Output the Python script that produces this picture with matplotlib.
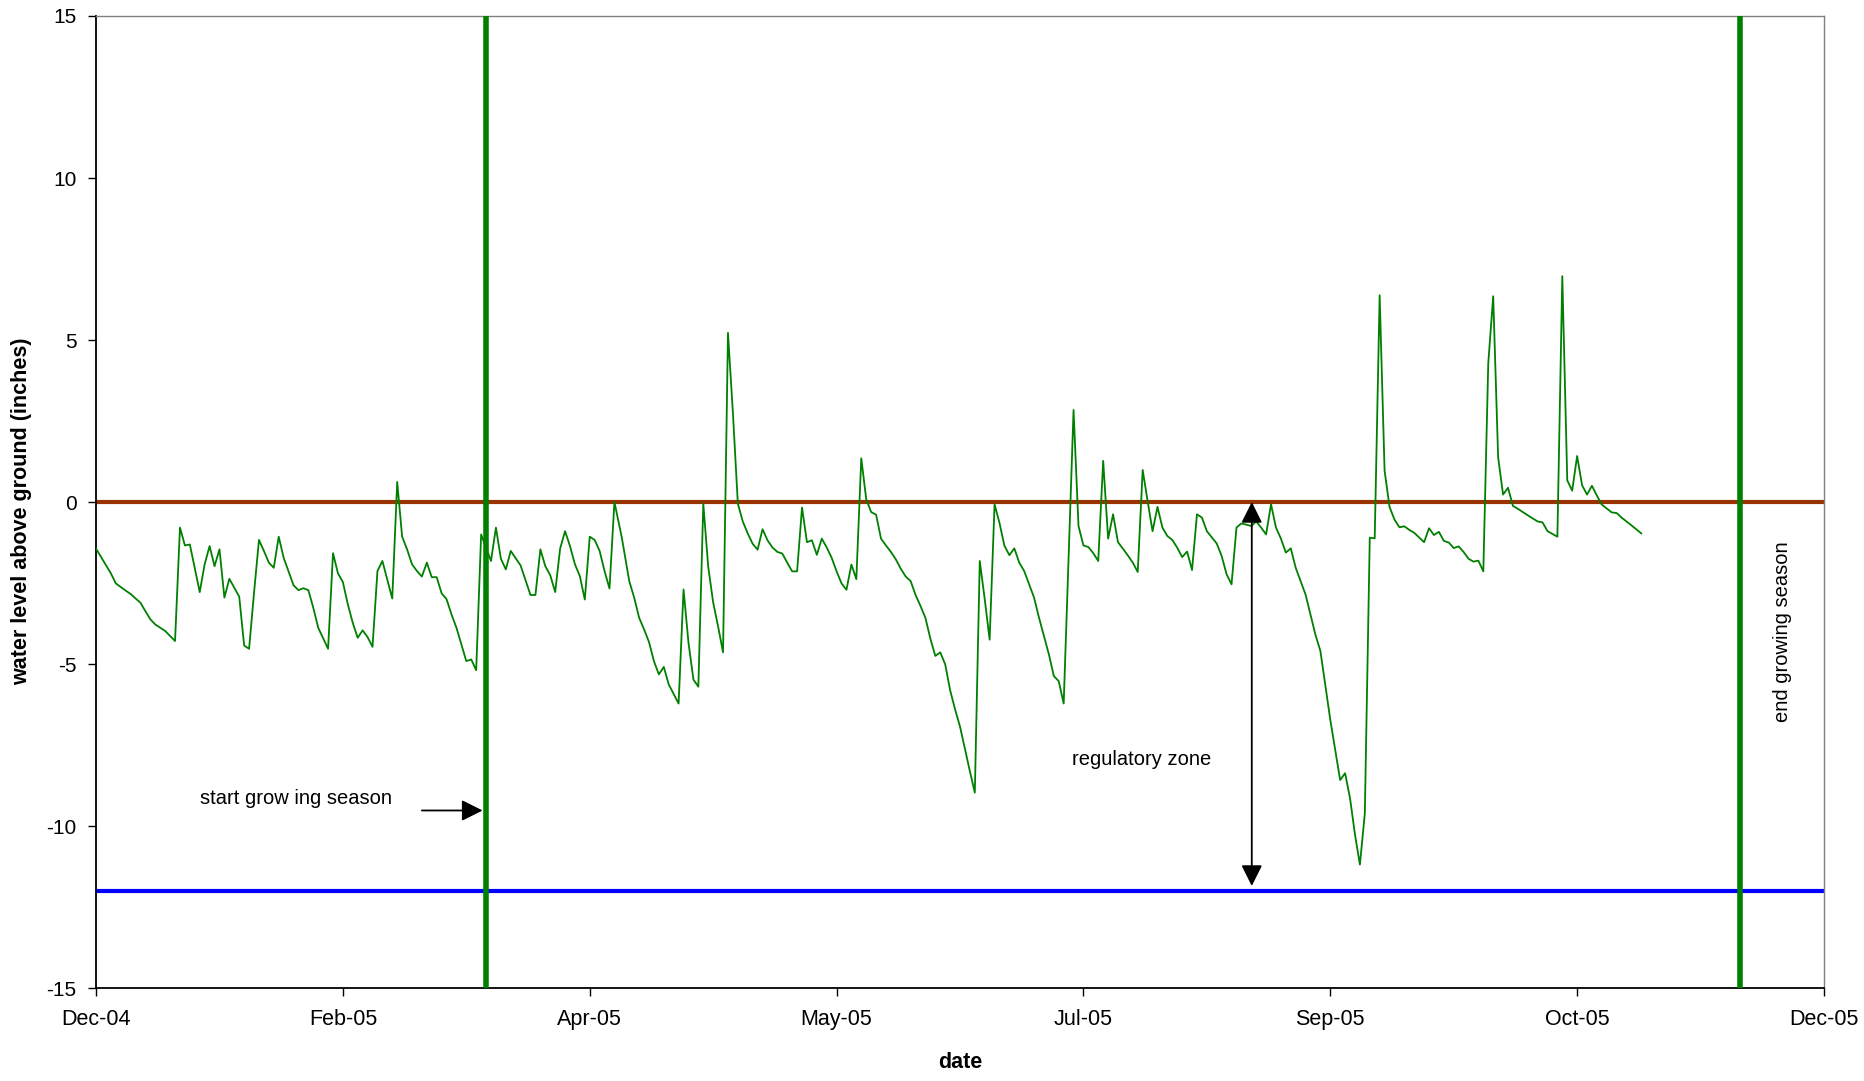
import numpy as np
import matplotlib
matplotlib.use("Agg")
import matplotlib.pyplot as plt
import matplotlib.dates as mdates
from datetime import datetime

plt.rcParams['font.family'] = ['Liberation Sans', 'DejaVu Sans']
plt.rcParams['axes.unicode_minus'] = False

# well record: days after 29 Dec 2004 and water level above ground (inches)
days = [0, 1.5, 3, 4, 5.5, 7, 9, 10, 11, 12,
        14, 16, 17, 18, 19, 21, 22, 23, 24, 25,
        26, 27, 29, 30, 31, 32, 33, 34, 35, 36,
        37, 38, 40, 41, 42, 43, 44, 45, 47, 48,
        49, 50, 51, 52, 53, 54, 55, 56, 57, 58,
        60, 61, 62, 63, 64, 65, 66, 67, 68, 69,
        70, 71, 72, 73, 74, 75, 76, 77, 78, 80,
        81, 82, 83, 84, 86, 88, 89, 90, 91, 92,
        93, 94, 95, 96, 97, 98, 99, 100, 101, 102,
        103, 104, 105, 106.5, 108, 109, 110, 111, 112, 113,
        114, 115, 116, 118, 119, 120, 121, 122, 123, 124,
        125, 126, 127, 128, 129, 130, 131, 132, 133, 134,
        135, 136, 137, 138, 139, 140, 141, 142, 143, 144,
        145, 146, 147, 148, 149, 150, 151, 152, 153, 154,
        155, 156, 157, 158, 159, 160, 161, 162, 163, 164,
        165, 166, 167, 168, 169, 170, 171, 172, 173, 174,
        175, 176, 177, 178, 179, 180, 181, 182, 183, 184,
        185, 186, 187, 188, 190, 191, 193, 194, 195, 196,
        198, 199, 200, 201, 202, 203, 204, 205, 206, 207,
        208, 209, 210, 211, 212, 213, 214, 215, 216, 217,
        218, 219, 220, 221, 222, 223, 224, 225, 227, 228,
        229, 230, 231, 232, 234, 235, 236, 237, 238, 239,
        240, 241, 242, 243, 245, 247, 248, 250, 252, 253,
        254, 255, 256, 257, 258, 259, 260, 261, 262, 263,
        264, 265, 266, 267, 269, 270, 271, 272, 273, 274,
        275, 276, 277, 278, 279, 280, 281, 282, 283, 284,
        285, 286, 287, 288, 290, 292, 293, 294, 296, 297,
        298, 299, 300, 301, 302, 303, 304, 305,
        307, 308, 309, 311, 313]

level = [-1.44, -1.82, -2.20, -2.51, -2.68, -2.84, -3.11, -3.37, -3.62, -3.78,
         -3.98, -4.29, -0.79, -1.34, -1.31, -2.78, -1.92, -1.36, -1.98, -1.46,
         -2.95, -2.37, -2.92, -4.43, -4.53, -2.80, -1.17, -1.51, -1.87, -2.03,
         -1.07, -1.72, -2.57, -2.72, -2.66, -2.72, -3.26, -3.88, -4.53, -1.58,
         -2.20, -2.47, -3.16, -3.73, -4.19, -3.96, -4.17, -4.47, -2.13, -1.82,
         -2.98, 0.62, -1.07, -1.46, -1.92, -2.13, -2.30, -1.87, -2.32, -2.32,
         -2.82, -3.00, -3.47, -3.88, -4.40, -4.91, -4.86, -5.19, -1.00, -1.82,
         -0.79, -1.75, -2.08, -1.51, -1.96, -2.87, -2.87, -1.46, -1.98, -2.26,
         -2.78, -1.44, -0.90, -1.36, -1.92, -2.29, -3.01, -1.07, -1.17, -1.51,
         -2.13, -2.67, 0.00, -1.10, -2.44, -2.95, -3.57, -3.93, -4.32, -4.91,
         -5.32, -5.09, -5.63, -6.22, -2.70, -4.34, -5.48, -5.70, -0.05, -2.00,
         -3.10, -3.84, -4.64, 5.22, 2.75, -0.05, -0.60, -0.97, -1.29, -1.47,
         -0.84, -1.18, -1.40, -1.54, -1.59, -1.87, -2.14, -2.14, -0.17, -1.24,
         -1.18, -1.63, -1.13, -1.40, -1.72, -2.14, -2.51, -2.71, -1.93, -2.38,
         1.35, 0.09, -0.31, -0.39, -1.13, -1.34, -1.54, -1.77, -2.06, -2.30,
         -2.44, -2.87, -3.21, -3.58, -4.22, -4.75, -4.64, -5.01, -5.81, -6.40,
         -6.93, -7.62, -8.31, -8.97, -1.82, -2.99, -4.25, -0.07, -0.65, -1.35,
         -1.64, -1.43, -1.87, -2.13, -2.95, -3.57, -4.70, -5.37, -5.53, -6.22,
         2.84, -0.74, -1.34, -1.39, -1.58, -1.82, 1.27, -1.13, -0.38, -1.24,
         -1.44, -1.65, -1.87, -2.16, 0.99, 0.03, -0.90, -0.15, -0.79, -1.05,
         -1.17, -1.41, -1.70, -1.53, -2.10, -0.38, -0.48, -0.90, -1.28, -1.67,
         -2.23, -2.54, -0.79, -0.66, -0.74, -0.60, -0.79, -1.00, -0.07, -0.79,
         -1.13, -1.56, -1.43, -2.03, -2.86, -4.10, -4.60, -6.72, -8.58, -8.37,
         -9.14, -10.26, -11.19, -9.61, -1.10, -1.12, 6.38, 0.97, -0.15, -0.54,
         -0.78, -0.75, -0.86, -0.95, -1.24, -0.81, -1.02, -0.92, -1.20, -1.25,
         -1.42, -1.37, -1.54, -1.75, -1.84, -1.81, -2.14, 4.28, 6.35, 1.38,
         0.23, 0.44, -0.12, -0.21, -0.41, -0.60, -0.63, -0.90, -1.07, 6.97,
         0.67, 0.35, 1.42, 0.52, 0.23, 0.50, 0.20, -0.08,
         -0.32, -0.34, -0.48, -0.72, -0.97]

ground_level = 0
lower_limit = -12
season_start = datetime(2005, 3, 18)
season_end = datetime(2005, 11, 27)
axis_start = datetime(2004, 12, 29)

t0 = mdates.date2num(axis_start)
x = t0 + np.array(days)

fig = plt.figure(figsize=(18.65, 10.81), dpi=100)
ax = fig.add_axes([0.0515, 0.086, 0.9265, 0.8992])

ax.axhline(ground_level, color='#993300', lw=3, zorder=2)
ax.axhline(lower_limit, color='#0000ff', lw=3, zorder=2)
ax.plot(x, level, color='#008000', lw=1.3, zorder=3)
ax.axvline(mdates.date2num(season_start), color='#008000', lw=4, zorder=4)
ax.axvline(mdates.date2num(season_end), color='#008000', lw=4, zorder=4)

# annotations
ax.annotate('', xy=(t0 + 78.3, -9.52), xytext=(t0 + 66, -9.52),
            arrowprops=dict(arrowstyle='-|>', color='black', lw=1.3,
                            mutation_scale=32, shrinkA=0, shrinkB=0), zorder=5)
ax.text(t0 + 40.6, -9.16, 'start grow ing season', ha='center', va='center', fontsize=14.5)

ax.annotate('', xy=(t0 + 234.1, 0), xytext=(t0 + 234.1, -11.85),
            arrowprops=dict(arrowstyle='<|-|>', color='black', lw=1.3,
                            mutation_scale=32, shrinkA=0, shrinkB=0), zorder=5)
ax.text(t0 + 211.8, -7.95, 'regulatory zone', ha='center', va='center', fontsize=14.5)

ax.text(t0 + 341.6, -4.0, 'end growing season', ha='center', va='center',
        rotation=90, fontsize=14.5)

ax.set_xlim(t0, t0 + 350)
ax.set_ylim(-15, 15)
ax.set_xticks(t0 + np.arange(0, 351, 50))
ax.xaxis.set_major_formatter(mdates.DateFormatter('%b-%y'))
ax.set_yticks(np.arange(-15, 16, 5))

ax.tick_params(axis='both', direction='out', length=6, width=1, color='black')
ax.tick_params(axis='x', labelsize=15.5, pad=9)
ax.tick_params(axis='y', labelsize=15, pad=8)

for side in ['top', 'right']:
    ax.spines[side].set_color('#808080')
    ax.spines[side].set_linewidth(1)
for side in ['left', 'bottom']:
    ax.spines[side].set_color('black')
    ax.spines[side].set_linewidth(1.3)

ax.set_xlabel('date', fontsize=15.5, fontweight='bold')
ax.set_ylabel('water level above ground (inches)', fontsize=15.5, fontweight='bold')
ax.xaxis.set_label_coords(0.5, -0.066)
ax.yaxis.set_label_coords(-0.037, 0.49)

fig.savefig('out.png', dpi=100, facecolor='white')
